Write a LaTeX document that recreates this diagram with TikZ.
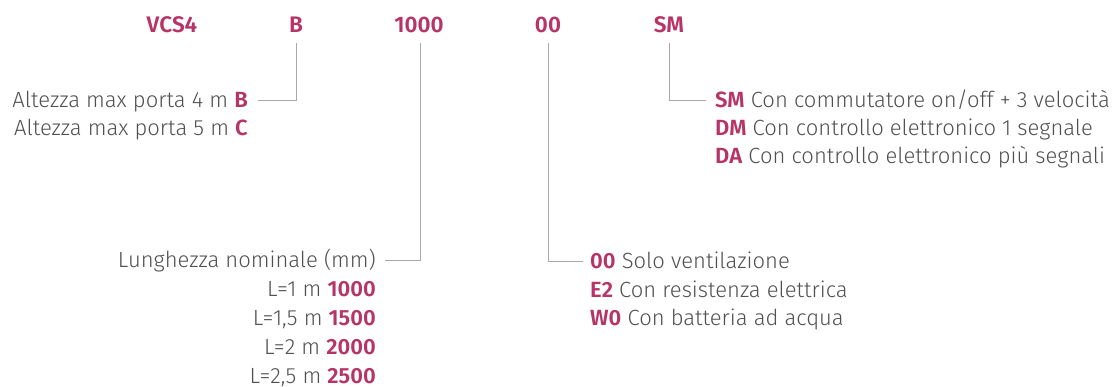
\documentclass[tikz,border=0pt]{standalone}
\usepackage{fontspec}
\setmainfont{Fira Sans Light}[BoldFont={Fira Sans SemiBold}]
\definecolor{mag}{HTML}{B73467}
\definecolor{txt}{HTML}{505050}
\definecolor{ln}{HTML}{A8A8A8}
\newcommand\hl[1]{{\bfseries\color{mag}#1}}
\begin{document}
\begin{tikzpicture}[x=1pt,y=-1pt,
  hdr/.style={inner sep=0pt,anchor=base,font=\fontsize{22.5}{26}\selectfont\bfseries,text=mag},
  lbl/.style={inner sep=0pt,font=\fontsize{22}{26}\selectfont,text=txt},
  lblr/.style={lbl,anchor=base east},
  lbll/.style={lbl,anchor=base west},
  conn/.style={draw=ln,line width=0.9pt}]
\useasboundingbox (0,0) rectangle (1113,387);
% header
\node[hdr] (hV) at (172,33) {VCS4};
\node[hdr] (hB) at (296,33) {B};
\node[hdr] (hL) at (419,33) {1000};
\node[hdr] (hO) at (548,33) {00};
\node[hdr] (hS) at (669,33) {SM};
% B options
\node[lblr] (a1) at (248,108) {Altezza max porta 4 m \hl{B}};
\node[lblr] (a2) at (248,136) {Altezza max porta 5 m \hl{C}};
% lengths
\node[lblr] (l0) at (376,268) {Lunghezza nominale (mm)};
\node[lblr] (l1) at (376,296) {L=1 m \hl{1000}};
\node[lblr] (l2) at (376,325) {L=1,5 m \hl{1500}};
\node[lblr] (l3) at (376,354) {L=2 m \hl{2000}};
\node[lblr] (l4) at (376,383) {L=2,5 m \hl{2500}};
% heating
\node[lbll] (o1) at (590,269) {\hl{00} Solo ventilazione};
\node[lbll] (o2) at (590,297) {\hl{E2} Con resistenza elettrica};
\node[lbll] (o3) at (590,325) {\hl{W0} Con batteria ad acqua};
% control
\node[lbll] (s1) at (715,108) {\hl{SM} Con commutatore on/off + 3 velocità};
\node[lbll] (s2) at (715,136) {\hl{DM} Con controllo elettronico 1 segnale};
\node[lbll] (s3) at (715,164) {\hl{DA} Con controllo elettronico più segnali};
% connectors
\coordinate (cB) at (296,43);
\coordinate (cL) at (420,43);
\coordinate (cO) at (548,43);
\coordinate (cS) at (669,43);
\draw[conn] (cB) |- ([xshift=10pt,yshift=8pt]a1.base east);
\draw[conn] (cL) |- ([xshift=9pt,yshift=8pt]l0.base east);
\draw[conn] (cO) |- ([xshift=-7pt,yshift=8pt]o1.base west);
\draw[conn] (cS) |- ([xshift=-9pt,yshift=8pt]s1.base west);
\end{tikzpicture}
\end{document}
